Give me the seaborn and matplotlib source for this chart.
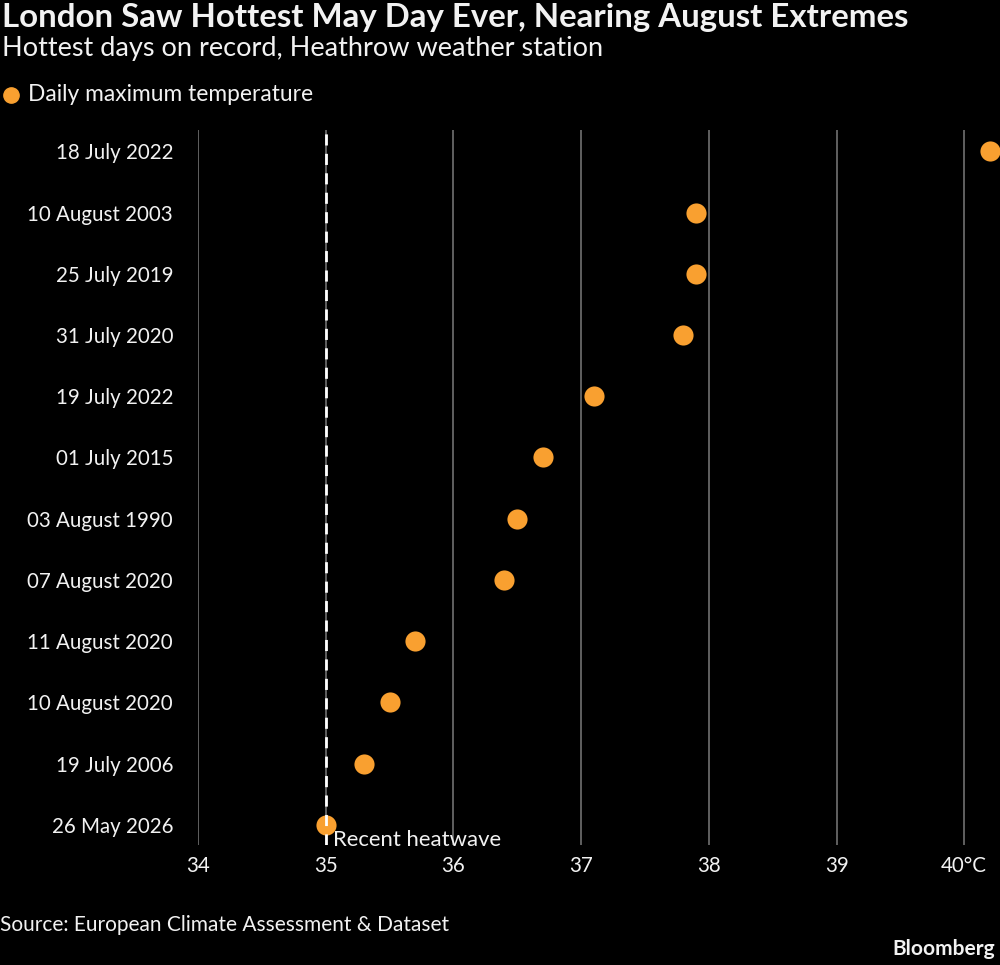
import numpy as np
import pandas as pd
import matplotlib
matplotlib.use("Agg")
import matplotlib.pyplot as plt
import seaborn as sns

# data
dates = ["18 July 2022", "10 August 2003", "25 July 2019", "31 July 2020",
         "19 July 2022", "01 July 2015", "03 August 1990", "07 August 2020",
         "11 August 2020", "10 August 2020", "19 July 2006", "26 May 2026"]
max_temp = [40.2, 37.9, 37.9, 37.8, 37.1, 36.7, 36.5, 36.4, 35.7, 35.5, 35.3, 35.0]
x_ticks = [34, 35, 36, 37, 38, 39, 40]
x_tick_labels = ["34", "35", "36", "37", "38", "39", "40°C"]
heatwave_temp = 35.0

ORANGE = "#F9A030"
TEXT = "#F2F2F2"
GRID = "#7A7A7A"

sns.set_style("dark")
plt.rcParams["font.family"] = ["Lato", "DejaVu Sans"]

df = pd.DataFrame({"date": dates, "temp": max_temp})

fig = plt.figure(figsize=(10, 9.65), dpi=100)
fig.patch.set_facecolor("black")
ax = fig.add_axes([0.198, 0.1244, 0.802, 0.7409])
ax.set_facecolor("black")

sns.stripplot(data=df, x="temp", y="date", order=dates, jitter=False,
              color=ORANGE, size=14.5, linewidth=0, ax=ax, zorder=3)

ax.set_xlim(34, 40.28)
ax.set_ylim(11.33, -0.35)
ax.set_xticks(x_ticks)
ax.set_xticklabels(x_tick_labels)
ax.grid(False)
for t in x_ticks:
    ax.axvline(t, color=GRID, lw=1.1, zorder=1)

# recent heatwave marker
ax.axvline(heatwave_temp, color="white", lw=2, ls=(0, (4, 3)), zorder=4)
ax.text(heatwave_temp + 0.06, 11.25, "Recent heatwave", color=TEXT,
        fontsize=15.9, va="center", ha="left")

for s in ax.spines.values():
    s.set_visible(False)
ax.tick_params(axis="both", length=0, colors=TEXT, labelsize=14.8)
ax.tick_params(axis="y", pad=18)
ax.tick_params(axis="x", pad=8)
ax.set_xlabel("")
ax.set_ylabel("")

fig.text(0.002, 0.982, "London Saw Hottest May Day Ever, Nearing August Extremes",
         color=TEXT, fontsize=23.8, fontweight="bold", va="center", ha="left")
fig.text(0.002, 0.950, "Hottest days on record, Heathrow weather station",
         color=TEXT, fontsize=19.5, va="center", ha="left")
fig.text(0.028, 0.902, "Daily maximum temperature", color=TEXT, fontsize=16.4,
         va="center", ha="left")
fig.lines.append(plt.Line2D([0.0105], [0.902], marker="o", color=ORANGE,
                            markersize=11, transform=fig.transFigure))
fig.text(0.0, 0.041, "Source: European Climate Assessment & Dataset",
         color=TEXT, fontsize=15, va="center", ha="left")
fig.text(0.995, 0.017, "Bloomberg", color=TEXT, fontsize=15,
         fontweight="bold", va="center", ha="right")

fig.savefig("out.png", dpi=100, facecolor="black")
